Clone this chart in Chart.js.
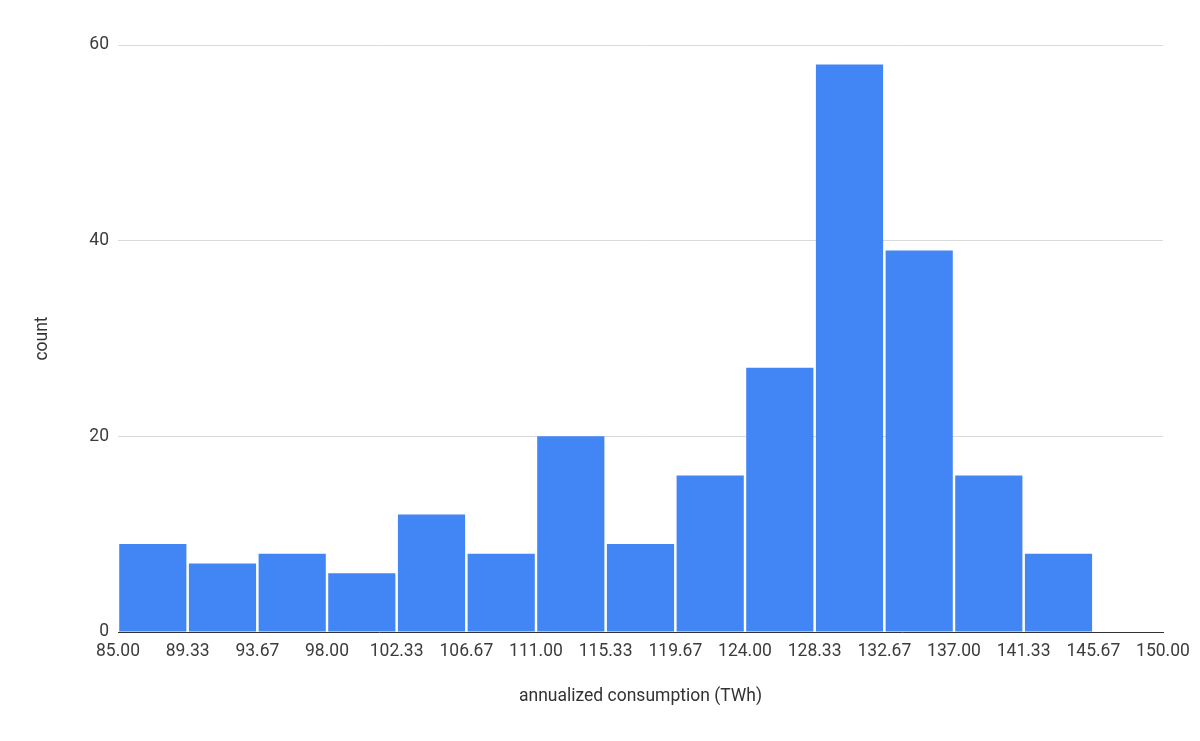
<!DOCTYPE html>
<html>
<head>
<meta charset="utf-8">
<script src="https://cdn.jsdelivr.net/npm/chart.js@4/dist/chart.umd.min.js"></script>
<style>
  html, body { margin: 0; padding: 0; background: #fff; }
  #wrap { width: 1200px; height: 741px; }
</style>
</head>
<body>
<div id="wrap"><canvas id="chart" width="1200" height="741"></canvas></div>
<script>
// histogram bins: edges and counts per bin
var binEdges = [85.00, 89.33, 93.67, 98.00, 102.33, 106.67, 111.00, 115.33, 119.67, 124.00, 128.33, 132.67, 137.00, 141.33, 145.67, 150.00];
var counts = [9, 7, 8, 6, 12, 8, 20, 9, 16, 27, 58, 39, 16, 8, 0];
var yTicks = [0, 20, 40, 60];

var points = counts.map(function (c, i) {
    return { x: (binEdges[i] + binEdges[i + 1]) / 2, y: c };
});

Chart.defaults.font.family = "Roboto, 'Noto Sans', sans-serif";
Chart.defaults.font.size = 17.5;
Chart.defaults.color = "#3c3c3c";

new Chart(document.getElementById('chart').getContext('2d'), {
    type: 'bar',
    data: {
        datasets: [{
            label: 'count',
            data: points,
            backgroundColor: '#4285f4',
            barPercentage: 0.965,
            categoryPercentage: 1
        }]
    },
    options: {
        responsive: false,
        animation: false,
        layout: { padding: { top: 45, right: 37, left: 0, bottom: 0 } },
        plugins: { legend: { display: false }, tooltip: { enabled: false } },
        scales: {
            x: {
                type: 'linear',
                offset: false,
                min: binEdges[0],
                max: binEdges[binEdges.length - 1],
                afterBuildTicks: function (scale) {
                    scale.ticks = binEdges.map(function (v) { return { value: v }; });
                },
                afterFit: function (scale) { scale.height = 109; },
                ticks: {
                    autoSkip: false,
                    maxRotation: 0,
                    padding: 9,
                    callback: function (v) { return Number(v).toFixed(2); }
                },
                grid: { display: false, drawTicks: false, offset: false },
                border: { display: true, color: '#333', width: 1 },
                title: {
                    display: true,
                    text: 'annualized consumption (TWh)',
                    color: '#333',
                    padding: { top: 0, bottom: 33.5 }
                }
            },
            y: {
                min: 0,
                max: 60,
                afterBuildTicks: function (scale) {
                    scale.ticks = yTicks.map(function (v) { return { value: v }; });
                },
                afterFit: function (scale) { scale.width = 118; },
                ticks: { padding: 9 },
                grid: {
                    drawTicks: false,
                    color: function (ctx) {
                        return ctx.tick && ctx.tick.value === 0 ? 'rgba(0,0,0,0)' : '#dadada';
                    }
                },
                border: { display: false },
                title: {
                    display: true,
                    text: 'count',
                    color: '#333',
                    padding: { top: 32, bottom: 0 }
                }
            }
        }
    }
});
</script>
</body>
</html>
